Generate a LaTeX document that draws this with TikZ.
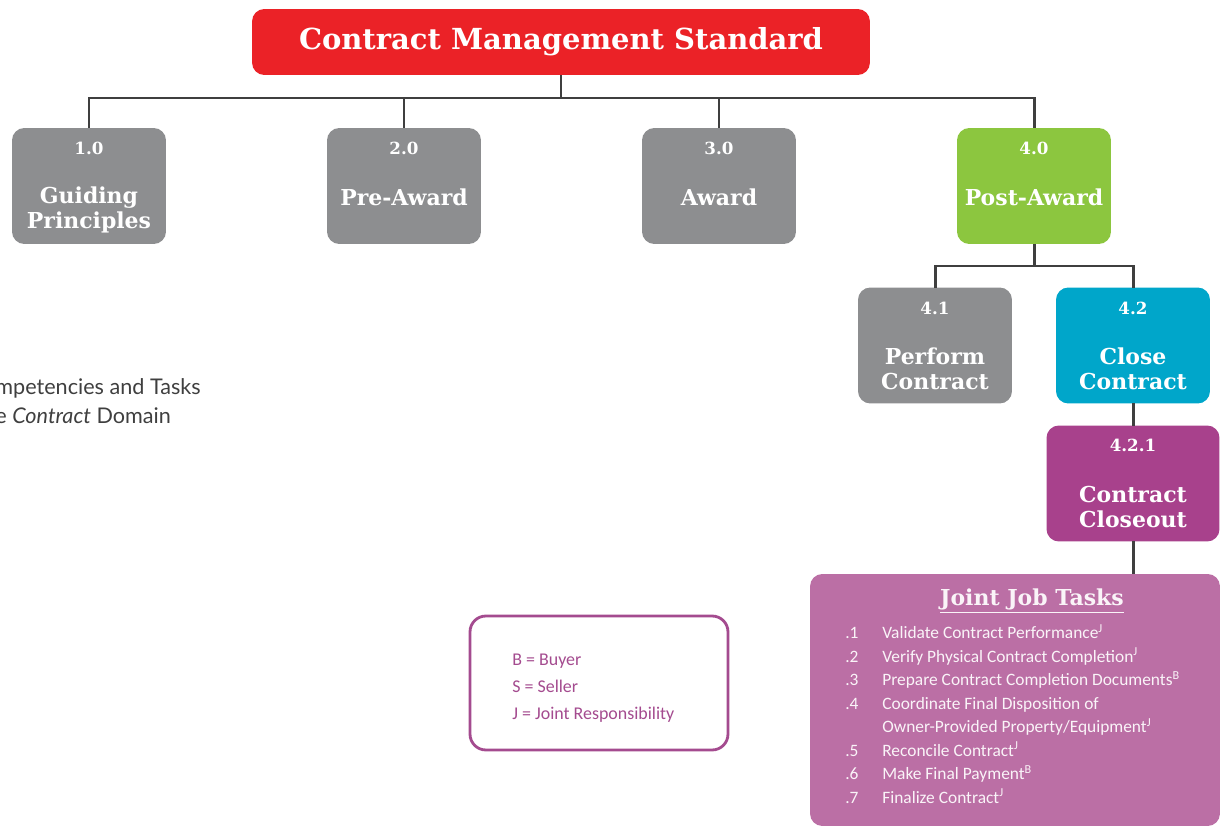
\documentclass[tikz,border=0pt]{standalone}
\usepackage{fontspec}
\usepackage{xcolor}
\usetikzlibrary{positioning}
\newfontfamily\slabfont{DejaVu Serif}
\newfontfamily\taskfont{Carlito}
\newfontfamily\notefont{Lato}
\definecolor{myred}{HTML}{EB2227}
\definecolor{mygray}{HTML}{8D8E90}
\definecolor{mygreen}{HTML}{8CC63F}
\definecolor{mycyan}{HTML}{00A6CA}
\definecolor{mymagenta}{HTML}{A8418C}
\definecolor{mypink}{HTML}{BB6FA5}
\definecolor{mylegend}{HTML}{A44B8F}
\definecolor{myline}{HTML}{3F3F3F}
\tikzset{
  x=0.02cm, y=-0.02cm,
  box/.style={rectangle,rounded corners=7,minimum width=3.08cm,minimum height=2.32cm,inner sep=0,outer sep=0},
  box gray/.style={box,fill=mygray},
  box green/.style={box,fill=mygreen},
  box cyan/.style={box,fill=mycyan},
  box magenta/.style={box,fill=mymagenta,minimum width=3.46cm},
  num/.style={text=white,font=\slabfont\bfseries\fontsize{9.5}{11}\selectfont,inner sep=0},
  lbl/.style={text=white,font=\slabfont\bfseries\fontsize{12.5}{14.2}\selectfont,align=center,inner sep=0},
  connect/.style={line width=1.7pt,myline},
  task/.style={text=white!92!mypink,font=\taskfont\fontsize{9.9}{13.4}\selectfont,align=left,inner sep=0,anchor=north west}
}
\newcommand{\tnum}[1]{\makebox[0.74cm][l]{#1}}
\begin{document}
\begin{tikzpicture}
  \useasboundingbox (0,0) rectangle (1225,827);
  % top
  \node[rectangle,rounded corners=7,fill=myred,minimum width=12.36cm,minimum height=1.32cm,text=white,
        font=\slabfont\bfseries\fontsize{16.5}{19}\selectfont] (top) at (561,42) {Contract Management Standard};
  % first level
  \node[box gray] (b1) at (89,186) {};
  \node[box gray] (b2) at (404,186) {};
  \node[box gray] (b3) at (719,186) {};
  \node[box green] (b4) at (1034,186) {};
  \node[num] (b1n) at (89,148) {1.0};
  \node[num] (b2n) at (404,148) {2.0};
  \node[num] (b3n) at (719,148) {3.0};
  \node[num] (b4n) at (1034,148) {4.0};
  \node[lbl] (b1l) at (89,210) {Guiding\\Principles};
  \node[lbl] (b2l) at (404,197) {Pre-Award};
  \node[lbl] (b3l) at (719,197) {Award};
  \node[lbl] (b4l) at (1034,197) {Post-Award};
  \coordinate (bus1) at (561,98);
  \draw[connect] (top) -- (bus1);
  \draw[connect] (bus1) -| (b1);
  \draw[connect] (bus1) -| (b2);
  \draw[connect] (bus1) -| (b3);
  \draw[connect] (bus1) -| (b4);
  % second level
  \node[box gray] (b41) at (935,345.5) {};
  \node[box cyan] (b42) at (1133,345.5) {};
  \node[num] (b41n) at (935,308) {4.1};
  \node[num] (b42n) at (1133,308) {4.2};
  \node[lbl] (b41l) at (935,369) {Perform\\Contract};
  \node[lbl] (b42l) at (1133,369) {Close\\Contract};
  \coordinate (bus2) at (1034,266);
  \draw[connect] (b4) -- (bus2);
  \draw[connect] (bus2) -| (b41);
  \draw[connect] (bus2) -| (b42);
  % third level
  \node[box magenta] (b421) at (1133,483.5) {};
  \node[num] (b421n) at (1133,445) {4.2.1};
  \node[lbl] (b421l) at (1133,507) {Contract\\Closeout};
  \draw[connect] (b42) -- (b421);
  % tasks
  \node[rectangle,rounded corners=7,fill=mypink,minimum width=8.2cm,minimum height=5.04cm] (tasks) at (1015,700) {};
  \draw[connect] (b421.south) -- (b421.south |- tasks.north);
  \node[text=white!92!mypink,font=\slabfont\bfseries\fontsize{12.5}{14}\selectfont,inner sep=0] (ttl) at (1032,601) {\underline{Joint Job Tasks}};
  \node[task] (tlist) at (845,624) {%
    \tnum{.1}Validate Contract Performance\textsuperscript{J}\\
    \tnum{.2}Verify Physical Contract Completion\textsuperscript{J}\\
    \tnum{.3}Prepare Contract Completion Documents\textsuperscript{B}\\
    \tnum{.4}Coordinate Final Disposition of\\
    \tnum{}Owner-Provided Property/Equipment\textsuperscript{J}\\
    \tnum{.5}Reconcile Contract\textsuperscript{J}\\
    \tnum{.6}Make Final Payment\textsuperscript{B}\\
    \tnum{.7}Finalize Contract\textsuperscript{J}};
  % legend
  \node[rectangle,rounded corners=9,draw=mylegend,line width=1.6pt,fill=white,minimum width=5.16cm,minimum height=2.68cm] (legend) at (599,683) {};
  \node[text=mylegend,font=\taskfont\fontsize{10.2}{15.3}\selectfont,align=left,inner sep=0,anchor=north west] (legtext) at (512,654) {B = Buyer\\S = Seller\\J = Joint Responsibility};
  % side note, cut by the page edge
  \node[text=myline,font=\notefont\fontsize{12.3}{16.6}\selectfont,align=left,inner sep=0,anchor=west] (note) at (-5,401) {mpetencies and Tasks\\e \textit{Contract} Domain};
\end{tikzpicture}
\end{document}
